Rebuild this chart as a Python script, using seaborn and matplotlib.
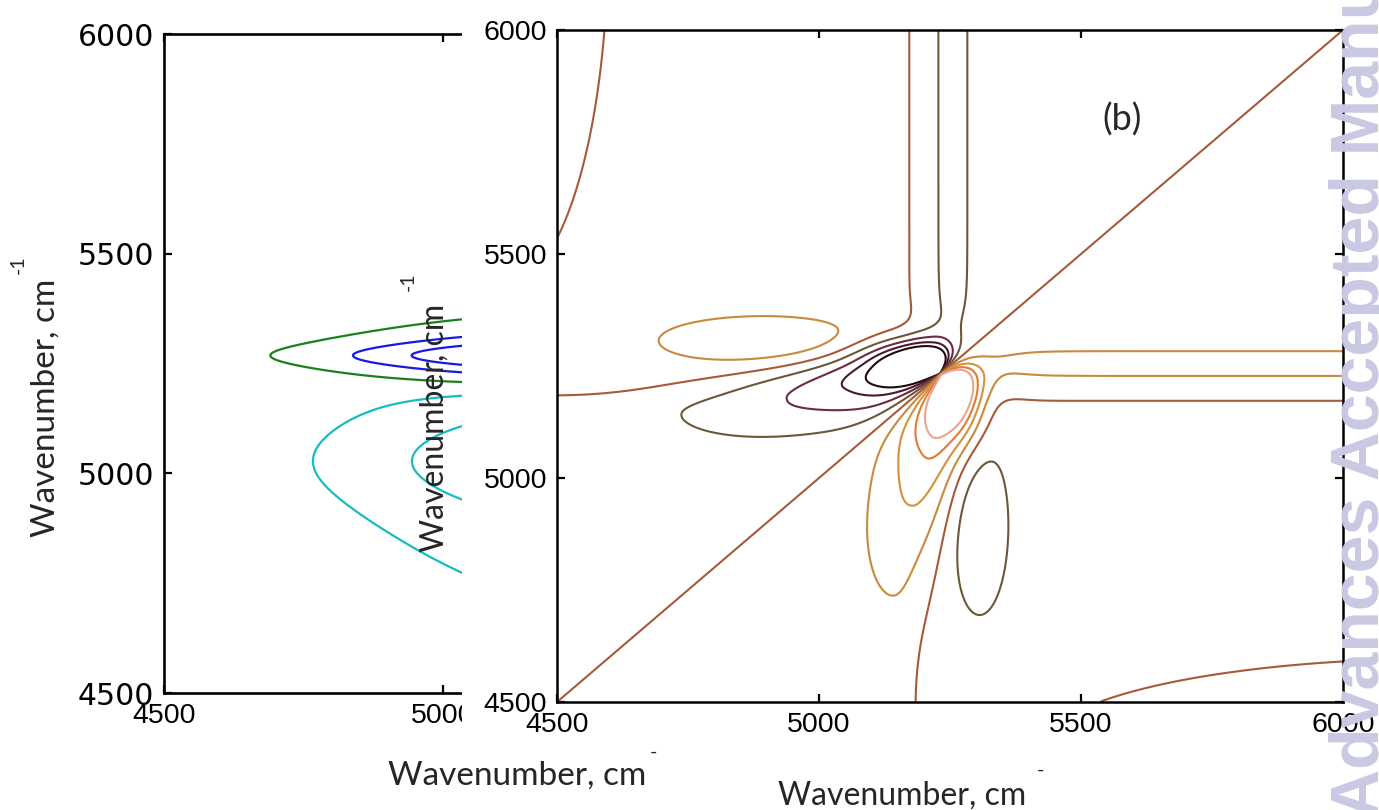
import numpy as np
import matplotlib
matplotlib.use("Agg")
import matplotlib.pyplot as plt
import seaborn as sns

sns.set_theme(style="white")
plt.rcParams["font.family"] = ["Liberation Sans", "DejaVu Sans"]

# ---------------------------------------------------------------- data
# wavenumber axis (cm^-1)
tick_values = [4500, 5000, 5500, 6000]
tick_labels = ["4500", "5000", "5500", "6000"]
axis_min, axis_max = 4500, 6000

# (a) cross-peak lobes: centre, widths and signed amplitude
a_center_x = [5230, 5230]
a_center_y = [5268, 5030]
a_width_x = [221, 230]
a_width_y = [31, 125]
a_amplitude = [1.0, -0.42]
a_levels = [-0.187, -0.0535, 0.045, 0.187, 0.39]
a_colors = ["#17bdbd", "#17bdbd", "#1a801a", "#1818e8", "#1818e8"]

# (b) asynchronous map, built from a few band components
pinch = 5232                      # crossing point on the diagonal
core_amp = 4.4
core_angle = 190.0                # direction of the main negative lobe (deg)
core_along = 287.0
core_back = 40.0
core_across_up = 48.0
core_across_low = 85.0
core_eps = 4.0

strip_center, strip_width, strip_amp = 5255.0, 32.0, 1.03
strip_onset, strip_step = 5300.0, 40.0

base_zero, base_amp = 5176.0, 0.30

blob_x, blob_y, blob_wx, blob_wy, blob_amp = 4895.0, 5306.0, 160.0, 44.0, 1.55
corner_x, corner_y, corner_wx, corner_wy, corner_amp = 4400.0, 6200.0, 100.0, 391.0, 2.1

b_levels = [-4, -3, -2, -1, 0, 1, 2, 3, 4]
b_colors = ["#1e0c08", "#4a1a2c", "#6c2b40", "#6b5838", "#a65a3a",
            "#c98a3e", "#d4913e", "#e27a38", "#e9a58e"]

# ---------------------------------------------------------------- fields
grid = np.linspace(axis_min, axis_max, 601)
X, Y = np.meshgrid(grid, grid + 1.25)

Za = np.zeros_like(X)
for cx, cy, wx, wy, amp in zip(a_center_x, a_center_y, a_width_x, a_width_y, a_amplitude):
    Za += amp * np.exp(-(X - cx) ** 2 / (2 * wx ** 2)) / (1 + ((Y - cy) / wy) ** 2)


def core_lobe(x, y):
    dx, dy = x - pinch, y - pinch
    t = np.deg2rad(core_angle)
    along = dx * np.cos(t) + dy * np.sin(t)
    across = -dx * np.sin(t) + dy * np.cos(t)
    sa = np.where(along > 0, core_along, core_back)
    sc = np.where(across > 0, core_across_low, core_across_up)
    return np.exp(-along ** 2 / (2 * sa ** 2) - across ** 2 / (2 * sc ** 2))


def strip_profile(v):
    return -strip_amp * np.exp(-(v - strip_center) ** 2 / (2 * strip_width ** 2))


def onset(v):
    return 1.0 / (1.0 + np.exp(-(v - strip_onset) / strip_step))


def gauss2(x, y, cx, cy, wx, wy, amp):
    return amp * np.exp(-(x - cx) ** 2 / (2 * wx ** 2) - (y - cy) ** 2 / (2 * wy ** 2))


r = np.hypot(X - pinch, Y - pinch)
core = -core_amp * (Y - X) / (r + core_eps) * (core_lobe(X, Y) + core_lobe(Y, X))
strip = onset(Y) * strip_profile(X) - onset(X) * strip_profile(Y)
base = -base_amp * np.tanh((X - base_zero) / 30) * np.tanh((Y - base_zero) / 30) * np.tanh((Y - X) / 60)
blob = gauss2(X, Y, blob_x, blob_y, blob_wx, blob_wy, blob_amp) - gauss2(Y, X, blob_x, blob_y, blob_wx, blob_wy, blob_amp)
corner = gauss2(X, Y, corner_x, corner_y, corner_wx, corner_wy, -corner_amp) - gauss2(Y, X, corner_x, corner_y, corner_wx, corner_wy, -corner_amp)
Zb = core + strip + base + blob + corner

# ---------------------------------------------------------------- figure
W, H = 1379, 810
fig = plt.figure(figsize=(W / 100, H / 100), dpi=100)
fig.patch.set_facecolor("white")


def box(left, top, right, bottom):
    return [left / W, 1 - bottom / H, (right - left) / W, (bottom - top) / H]


def style_axes(ax, lw):
    ax.set_xlim(axis_min, axis_max)
    ax.set_ylim(axis_min, axis_max)
    ax.set_xticks(tick_values)
    ax.set_xticklabels(tick_labels)
    ax.set_yticks(tick_values)
    ax.set_yticklabels(tick_labels)
    ax.tick_params(direction="in", length=6, width=1.6, color="black",
                   top=True, right=True, bottom=True, left=True,
                   labelsize=20.5, labelcolor="black", pad=7)
    for sp in ax.spines.values():
        sp.set_visible(True)
        sp.set_color("black")
        sp.set_linewidth(lw)
    ax.set_facecolor("white")
    ax.grid(False)


axA = fig.add_axes(box(164, 34, 1001, 693), zorder=1)
axA.contour(X, Y, Za, levels=a_levels, colors=a_colors, linewidths=1.6)
style_axes(axA, 1.9)
for lab in axA.get_yticklabels():
    lab.set_fontfamily(["DejaVu Sans"])
    lab.set_fontsize(21.5)

cover = fig.add_axes(box(462, 0, W, 748), zorder=2)
cover.set_facecolor("white")
cover.set_xticks([])
cover.set_yticks([])
for sp in cover.spines.values():
    sp.set_visible(False)

axB = fig.add_axes(box(557, 30, 1343, 702), zorder=3)
axB.contour(X, Y, Zb, levels=b_levels, colors=b_colors, linewidths=1.5)
style_axes(axB, 1.8)


def px(x, y):
    return x / W, 1 - y / H


label_font = ["Lato", "DejaVu Sans"]
fig.text(*px(517, 776), "Wavenumber, cm", fontsize=24, family=label_font,
         ha="center", va="center", zorder=20)
fig.text(*px(653, 752), "-", fontsize=14, family=label_font, ha="center", va="center", zorder=20)
fig.text(*px(902, 796), "Wavenumber, cm", fontsize=23, family=label_font,
         ha="center", va="center", zorder=20)
fig.text(*px(1040, 770), "-", fontsize=14, family=label_font, ha="center", va="center", zorder=20)
fig.text(*px(46, 408), "Wavenumber, cm", fontsize=24, family=label_font, rotation=90,
         ha="center", va="center", zorder=20)
fig.text(*px(18, 265), "-1", fontsize=14, family=label_font, rotation=90,
         ha="center", va="center", zorder=20)
fig.text(*px(435, 428), "Wavenumber, cm", fontsize=23, family=label_font, rotation=90,
         ha="center", va="center", zorder=20)
fig.text(*px(408, 282), "-1", fontsize=14, family=label_font, rotation=90,
         ha="center", va="center", zorder=20)
fig.text(*px(1122, 120), "(b)", fontsize=26, family=label_font,
         ha="center", va="center", zorder=20)

fig.text(*px(1379, 818), "Advances Accepted Manuscript", fontsize=49, fontweight="bold",
         family=["Liberation Sans", "DejaVu Sans"], color="#c9c9e3", rotation=90,
         rotation_mode="anchor", ha="left", va="baseline", zorder=30)

fig.savefig("out.png", dpi=100, facecolor="white")
